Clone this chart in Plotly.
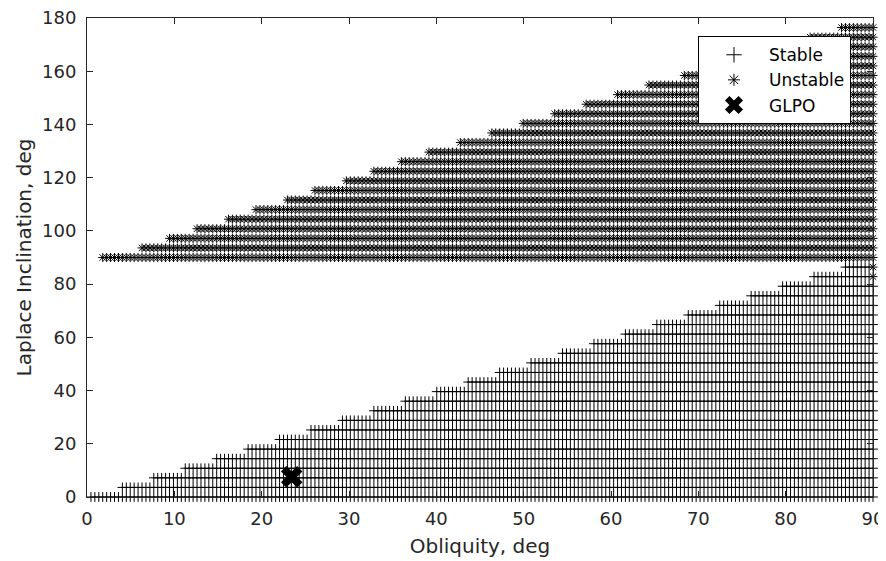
import numpy as np
import plotly.graph_objects as go

# sampling grid of the run (obliquity step, deg)
obliquity_step = 0.45
obliquity_cols = np.round(np.arange(1, 201) * obliquity_step, 2)

# stable solutions: each inclination row, first / last obliquity where it is stable
stable_rows = [0, 3.6, 7.2, 10.8, 14.4, 18, 21.6, 25.2, 28.8, 32.4, 36, 39.6, 43.2,
               46.8, 50.4, 54, 57.6, 61.2, 64.8, 68.4, 72, 75.6, 79.2, 82.8, 86.4]
stable_start = [0.45, 4.05, 7.65, 11.25, 14.85, 18.45, 22.05, 25.65, 29.25, 32.85,
                36.45, 40.05, 43.65, 47.25, 50.85, 54.45, 58.05, 61.65, 65.25, 68.85,
                72.45, 76.05, 79.65, 83.25, 86.85]
stable_end = [90] * 23 + [89.55, 89.55]

# unstable solutions
unstable_rows = [90, 93.6, 97.2, 100.8, 104.4, 108, 111.6, 115.2, 118.8, 122.4, 126,
                 129.6, 133.2, 136.8, 140.4, 144, 147.6, 151.2, 154.8, 158.4, 162,
                 165.6, 169.2, 172.8, 176.4]
unstable_start = [1.8, 6.3, 9.45, 12.6, 16.2, 19.35, 22.95, 26.1, 29.7, 32.85, 36,
                  39.15, 42.75, 46.35, 49.95, 53.55, 57.15, 60.75, 64.35, 68.4, 72,
                  75.6, 79.2, 82.8, 86.4]
unstable_edge_obliquity = [90, 90]
unstable_edge_incl = [82.8, 86.4]

# GLPO point
glpo_obliquity = [23.44]
glpo_incl = [7.6]

x_ticks = [0, 10, 20, 30, 40, 50, 60, 70, 80, 90]
y_ticks = [0, 20, 40, 60, 80, 100, 120, 140, 160, 180]


def expand_rows(rows, starts, ends):
    xs, ys = [], []
    for row, lo, hi in zip(rows, starts, ends):
        cols = obliquity_cols[(obliquity_cols >= lo - 1e-6) & (obliquity_cols <= hi + 1e-6)]
        xs.extend(cols.tolist())
        ys.extend([row] * len(cols))
    return xs, ys


sx, sy = expand_rows(stable_rows, stable_start, stable_end)
ux, uy = expand_rows(unstable_rows, unstable_start, [90] * len(unstable_rows))
ux += unstable_edge_obliquity
uy += unstable_edge_incl

axis_color = '#262626'
font = 'DejaVu Sans'

stable_marker = dict(symbol='cross-thin-open', color='black',
                     line=dict(color='black', width=1))
unstable_marker = dict(symbol='asterisk-open', color='black',
                       line=dict(color='black', width=1))
glpo_marker = dict(symbol='x', color='black', line=dict(color='black', width=0))

fig = go.Figure()
fig.add_trace(go.Scatter(x=sx, y=sy, mode='markers', showlegend=False,
                         cliponaxis=False, marker=dict(size=7, **stable_marker)))
fig.add_trace(go.Scatter(x=ux, y=uy, mode='markers', showlegend=False,
                         cliponaxis=False, marker=dict(size=7.5, **unstable_marker)))
fig.add_trace(go.Scatter(x=glpo_obliquity, y=glpo_incl, mode='markers',
                         showlegend=False, cliponaxis=False,
                         marker=dict(size=19, **glpo_marker)))

# legend entries drawn with bigger symbols, as in the original legend
fig.add_trace(go.Scatter(x=[None], y=[None], mode='markers', name='Stable',
                         marker=dict(size=11, **stable_marker)))
fig.add_trace(go.Scatter(x=[None], y=[None], mode='markers', name='Unstable',
                         marker=dict(size=10, **unstable_marker)))
fig.add_trace(go.Scatter(x=[None], y=[None], mode='markers', name='GLPO',
                         marker=dict(size=16, **glpo_marker)))

# page body has an 8px margin, so the figure is 8px smaller and shifted
fig.update_layout(
    width=878, height=553,
    margin=dict(l=79, r=13, t=10, b=64, autoexpand=False),
    paper_bgcolor='white', plot_bgcolor='white',
    font=dict(family=font, size=18, color=axis_color),
    showlegend=True,
    legend=dict(x=0.972, y=0.962, xanchor='right', yanchor='top',
                bgcolor='white', bordercolor='black', borderwidth=1,
                font=dict(size=17, color='black'), tracegroupgap=0,
                itemsizing='trace', itemwidth=60),
    xaxis=dict(range=[0, 90], tickvals=x_ticks, ticks='inside', ticklen=6,
               tickcolor=axis_color, showline=True, linecolor=axis_color,
               linewidth=1, mirror='ticks', showgrid=False, zeroline=False,
               automargin=False, tickfont=dict(size=18), ticklabelstandoff=5,
               ticklabeloverflow='allow',
               title=dict(text='Obliquity, deg', font=dict(size=20), standoff=11)),
    yaxis=dict(range=[0, 180], tickvals=y_ticks, ticks='inside', ticklen=6,
               tickcolor=axis_color, showline=True, linecolor=axis_color,
               linewidth=1, mirror='ticks', showgrid=False, zeroline=False,
               automargin=False, tickfont=dict(size=18), ticklabelstandoff=6,
               ticklabeloverflow='allow',
               title=dict(text='Laplace Inclination, deg', font=dict(size=20),
                          standoff=5)),
)

fig.write_html("out.html")
